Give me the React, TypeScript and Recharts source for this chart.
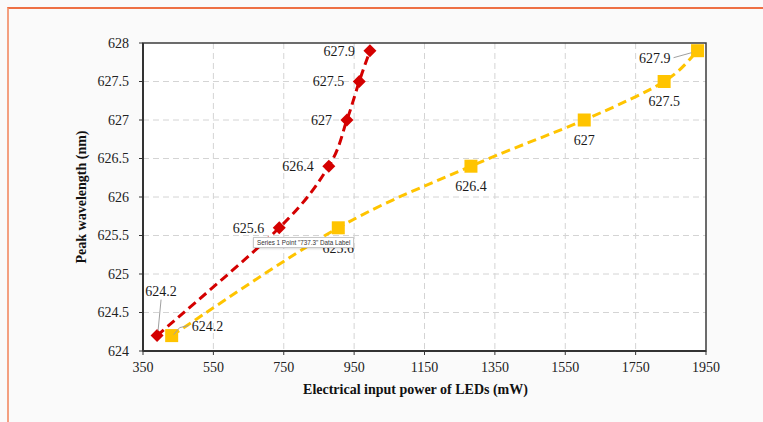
import React from "react";
import {
  LineChart,
  Line,
  XAxis,
  YAxis,
  CartesianGrid,
  ReferenceArea,
} from "recharts";

// input power (mW) vs peak wavelength (nm)
const redPower = [390, 737.3, 878, 929.5, 964.5, 995];
const redWavelength = [624.2, 625.6, 626.4, 627, 627.5, 627.9];
const yellowPower = [431.5, 905, 1282, 1604, 1831, 1926];
const yellowWavelength = [624.2, 625.6, 626.4, 627, 627.5, 627.9];

const xTicks = [350, 550, 750, 950, 1150, 1350, 1550, 1750, 1950];
const yTicks = [624, 624.5, 625, 625.5, 626, 626.5, 627, 627.5, 628];

const redData = redPower.map((x, i) => ({ x, y: redWavelength[i] }));
const yellowData = yellowPower.map((x, i) => ({ x, y: yellowWavelength[i] }));

const RED = "#d40000";
const YELLOW = "#ffc400";
const FONT = "'Liberation Serif', 'Times New Roman', serif";

// excel-style smoothing (catmull-rom through the points)
const excelSmooth: any = (ctx: any) => {
  let pts: [number, number][] = [];
  return {
    areaStart() {},
    areaEnd() {},
    lineStart() {
      pts = [];
    },
    point(x: number, y: number) {
      pts.push([+x, +y]);
    },
    lineEnd() {
      if (!pts.length) return;
      ctx.moveTo(pts[0][0], pts[0][1]);
      for (let i = 0; i < pts.length - 1; i++) {
        const p0 = pts[Math.max(i - 1, 0)];
        const p1 = pts[i];
        const p2 = pts[i + 1];
        const p3 = pts[Math.min(i + 2, pts.length - 1)];
        ctx.bezierCurveTo(
          p1[0] + (p2[0] - p0[0]) / 6,
          p1[1] + (p2[1] - p0[1]) / 6,
          p2[0] - (p3[0] - p1[0]) / 6,
          p2[1] - (p3[1] - p1[1]) / 6,
          p2[0],
          p2[1]
        );
      }
    },
  };
};

const Diamond = (props: any) => {
  const { cx, cy } = props;
  if (cx == null || cy == null) return null;
  const r = 6.5;
  return (
    <polygon
      points={`${cx},${cy - r} ${cx + r},${cy} ${cx},${cy + r} ${cx - r},${cy}`}
      fill={RED}
    />
  );
};

const Square = (props: any) => {
  const { cx, cy } = props;
  if (cx == null || cy == null) return null;
  const s = 13;
  return <rect x={cx - s / 2} y={cy - s / 2} width={s} height={s} fill={YELLOW} />;
};

const textStyle = { fontFamily: FONT, fontSize: 14, fill: "#1a1a1a" };

const RedLabel = (props: any) => {
  const { x, y, value, index } = props;
  if (index === 0) {
    return (
      <g>
        <line x1={x + 4} y1={y - 36} x2={x + 1} y2={y - 5} stroke="#a0a0a0" strokeWidth={1} />
        <text x={x + 4} y={y - 45} dy="0.35em" textAnchor="middle" style={textStyle}>
          {value}
        </text>
      </g>
    );
  }
  return (
    <text x={x - 15} y={y} dy="0.35em" textAnchor="end" style={textStyle}>
      {value}
    </text>
  );
};

const YellowLabel = (props: any) => {
  const { x, y, value, index } = props;
  if (index === 0) {
    return (
      <g>
        <polyline
          points={`${x + 17},${y - 10} ${x + 8},${y - 8} ${x + 2},${y - 1}`}
          fill="none"
          stroke="#a0a0a0"
          strokeWidth={1}
        />
        <text x={x + 20} y={y - 10} dy="0.35em" textAnchor="start" style={textStyle}>
          {value}
        </text>
      </g>
    );
  }
  if (index === yellowData.length - 1) {
    return (
      <g>
        <line x1={x - 24} y1={y + 7} x2={x - 6} y2={y + 2} stroke="#a0a0a0" strokeWidth={1} />
        <text x={x - 27} y={y + 7} dy="0.35em" textAnchor="end" style={textStyle}>
          {value}
        </text>
      </g>
    );
  }
  return (
    <text x={x} y={y + 20} dy="0.35em" textAnchor="middle" style={textStyle}>
      {value}
    </text>
  );
};

const XTick = (props: any) => {
  const { x, y, payload } = props;
  return (
    <text x={x} y={y} dy="0.71em" textAnchor="middle" style={{ ...textStyle, fill: "#222" }}>
      {payload.value}
    </text>
  );
};

const YTick = (props: any) => {
  const { x, y, payload } = props;
  return (
    <text x={x} y={y} dy="0.35em" textAnchor="end" style={{ ...textStyle, fill: "#222" }}>
      {payload.value}
    </text>
  );
};

const YTitle = (props: any) => {
  const { viewBox } = props;
  const cx = viewBox.x + 61;
  const cy = viewBox.y + viewBox.height / 2;
  return (
    <text
      x={cx}
      y={cy}
      dy="0.35em"
      textAnchor="middle"
      transform={`rotate(-90, ${cx}, ${cy})`}
      style={{ fontFamily: FONT, fontSize: 14, fontWeight: "bold", fill: "#111" }}
    >
      Peak wavelength (nm)
    </text>
  );
};

const XTitle = (props: any) => {
  const { viewBox } = props;
  return (
    <text
      x={viewBox.x + viewBox.width / 2 - 9}
      y={viewBox.y + 38}
      dy="0.35em"
      textAnchor="middle"
      style={{ fontFamily: FONT, fontSize: 14, fontWeight: "bold", fill: "#111" }}
    >
      Electrical input power of LEDs (mW)
    </text>
  );
};

export default function App() {
  return (
    <div
      style={{
        position: "absolute",
        left: 0,
        top: 0,
        width: 763,
        height: 422,
        background: "#fafafa",
        overflow: "hidden",
      }}
    >
      <div
        style={{
          position: "absolute",
          left: 7,
          top: 7,
          width: 770,
          height: 430,
          borderTop: "2px solid #ee7044",
          borderLeft: "2px solid #f4a080",
        }}
      />
      <LineChart
        width={763}
        height={422}
        margin={{ top: 43, right: 57, left: 20, bottom: 8 }}
        style={{ position: "absolute", left: 0, top: 0 }}
      >
        <CartesianGrid
          fill="#ffffff"
          stroke="#d4d4d4"
          strokeDasharray="6 4"
          verticalValues={xTicks.slice(1, -1)}
          horizontalValues={yTicks.slice(1, -1)}
        />
        <ReferenceArea
          x1={350}
          x2={1950}
          y1={624}
          y2={628}
          fill="none"
          stroke="#3c3c3c"
          strokeWidth={1.5}
        />
        <XAxis
          type="number"
          dataKey="x"
          domain={[350, 1950]}
          ticks={xTicks}
          allowDataOverflow
          height={63}
          tickSize={4}
          tickMargin={7}
          axisLine={{ stroke: "#333", strokeWidth: 2 }}
          tickLine={{ stroke: "#333" }}
          tick={<XTick />}
          label={<XTitle />}
        />
        <YAxis
          type="number"
          dataKey="y"
          domain={[624, 628]}
          ticks={yTicks}
          allowDataOverflow
          width={123}
          tickSize={4}
          tickMargin={10}
          axisLine={{ stroke: "#333", strokeWidth: 2 }}
          tickLine={{ stroke: "#333" }}
          tick={<YTick />}
          label={<YTitle />}
        />
        <Line
          data={redData}
          dataKey="y"
          type={excelSmooth}
          stroke={RED}
          strokeWidth={3}
          strokeDasharray="9 5"
          dot={<Diamond />}
          activeDot={false}
          label={<RedLabel />}
          isAnimationActive={false}
        />
        <Line
          data={yellowData}
          dataKey="y"
          type={excelSmooth}
          stroke={YELLOW}
          strokeWidth={3}
          strokeDasharray="9 5"
          dot={<Square />}
          activeDot={false}
          label={<YellowLabel />}
          isAnimationActive={false}
        />
      </LineChart>
      <div
        style={{
          position: "absolute",
          left: 253,
          top: 237,
          height: 9,
          padding: "0 3px",
          background: "#ffffff",
          border: "1px solid #c8c8c8",
          boxShadow: "0 1px 2px rgba(0,0,0,0.15)",
          fontFamily: "'Liberation Sans', Arial, sans-serif",
          fontSize: 6.3,
          lineHeight: "9px",
          color: "#333",
          whiteSpace: "nowrap",
        }}
      >
        Series 1 Point "737.3" Data Label
      </div>
    </div>
  );
}
